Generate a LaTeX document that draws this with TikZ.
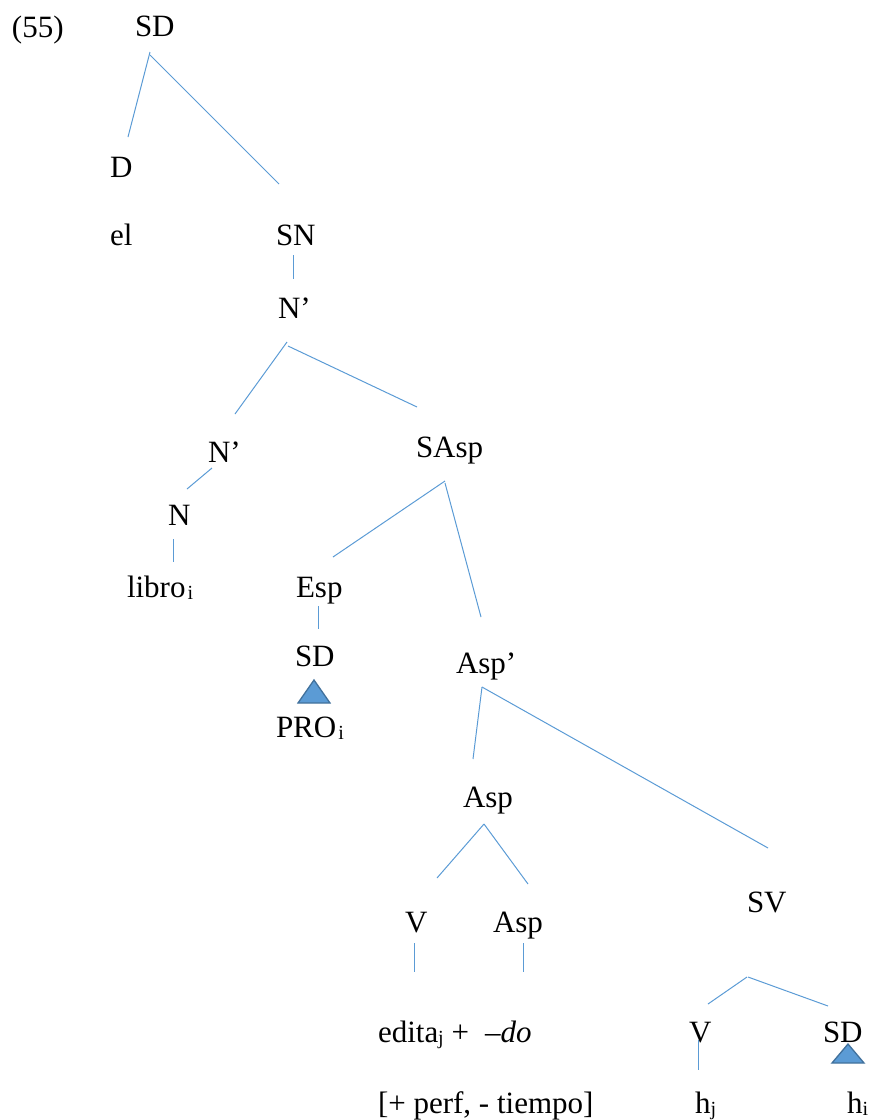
\documentclass[tikz,border=0pt]{standalone}
\usepackage{fontspec}
\setmainfont{Liberation Serif}
\definecolor{brc}{HTML}{5B9BD5}
\definecolor{trif}{HTML}{5B9BD5}
\definecolor{tric}{HTML}{41719C}
\newcommand\mysub[1]{\raisebox{-2pt}{\fontsize{20}{20}\selectfont #1}}
\begin{document}
\begin{tikzpicture}[x=1pt,y=-1pt,
  lab/.style={anchor=base west,inner sep=0pt,outer sep=0pt,font=\fontsize{31}{36}\selectfont},
  br/.style={draw=brc,line width=1pt},
  tri/.style={fill=trif,draw=tric,line width=1.3pt,line join=miter}]
\useasboundingbox (0,0) rectangle (869,1120);
% labels
\node[lab] (ex) at (12,37) {(55)};
\node[lab] (SD0) at (135,36) {SD};
\node[lab] (D) at (110,177) {D};
\node[lab] (el) at (110,245) {el};
\node[lab] (SN) at (276,245) {SN};
\node[lab] (N1) at (278,318) {N’};
\node[lab] (N2) at (208,462) {N’};
\node[lab] (SAsp) at (416,457) {SAsp};
\node[lab] (N) at (168,525) {N};
\node[lab] (libro) at (127,597) {libro\kern2pt\mysub{i}};
\node[lab] (Esp) at (296,597) {Esp};
\node[lab] (SD1) at (295,666) {SD};
\node[lab] (PRO) at (276,737) {PRO\kern2pt\mysub{i}};
\node[lab] (AspB) at (456,673) {Asp’};
\node[lab] (Asp) at (463,807) {Asp};
\node[lab] (V1) at (405,932) {V};
\node[lab] (Asp2) at (493,932) {Asp};
\node[lab] (SV) at (747,912) {SV};
\node[lab] (edita) at (378,1042) {edita\mysub{j} +};
\node[lab] (do) at (485,1042) {–\textit{do}};
\node[lab] (V2) at (689,1042) {V};
\node[lab] (SD2) at (823,1042) {SD};
\node[lab] (feat) at (378,1113) {[+ perf, - tiempo]};
\node[lab] (hj) at (695,1113) {h\mysub{j}};
\node[lab] (hi) at (847,1113) {h\mysub{i}};
% branches
\draw[br] ([xshift=15pt,yshift=-16pt]SD0.base west) -- ([xshift=18pt,yshift=40pt]D.base west);
\draw[br] ([xshift=15pt,yshift=-19pt]SD0.base west) -- ([xshift=3pt,yshift=61pt]SN.base west);
\draw[br] ([xshift=17pt,yshift=-10pt]SN.base west) -- ([xshift=15pt,yshift=39pt]N1.base west);
\draw[br] ([xshift=9pt,yshift=-24pt]N1.base west) -- ([xshift=27pt,yshift=48pt]N2.base west);
\draw[br] ([xshift=10pt,yshift=-28pt]N1.base west) -- ([xshift=1pt,yshift=50pt]SAsp.base west);
\draw[br] ([xshift=4pt,yshift=-6pt]N2.base west) -- ([xshift=19pt,yshift=36pt]N.base west);
\draw[br] ([xshift=5pt,yshift=-14pt]N.base west) -- ([xshift=46pt,yshift=35pt]libro.base west);
\draw[br] ([xshift=29pt,yshift=-24pt]SAsp.base west) -- ([xshift=37pt,yshift=40pt]Esp.base west);
\draw[br] ([xshift=29pt,yshift=-26pt]SAsp.base west) -- ([xshift=25pt,yshift=56pt]AspB.base west);
\draw[br] ([xshift=22pt,yshift=-9pt]Esp.base west) -- ([xshift=23pt,yshift=37pt]SD1.base west);
\draw[br] ([xshift=26pt,yshift=-14pt]AspB.base west) -- ([xshift=10pt,yshift=48pt]Asp.base west);
\draw[br] ([xshift=26pt,yshift=-14pt]AspB.base west) -- ([xshift=21pt,yshift=64pt]SV.base west);
\draw[br] ([xshift=21pt,yshift=-17pt]Asp.base west) -- ([xshift=32pt,yshift=54pt]V1.base west);
\draw[br] ([xshift=21pt,yshift=-17pt]Asp.base west) -- ([xshift=35pt,yshift=48pt]Asp2.base west);
\draw[br] ([xshift=9pt,yshift=-11pt]V1.base west) -- ([xshift=36pt,yshift=70pt]edita.base west);
\draw[br] ([xshift=30pt,yshift=-11pt]Asp2.base west) -- ([xshift=38pt,yshift=70pt]do.base west);
\draw[br] ([xshift=0pt,yshift=-65pt]SV.base west) -- ([xshift=19pt,yshift=38pt]V2.base west);
\draw[br] ([xshift=1pt,yshift=-65pt]SV.base west) -- ([xshift=5pt,yshift=36pt]SD2.base west);
\draw[br] ([xshift=9pt,yshift=2pt]V2.base west) -- ([xshift=3pt,yshift=43pt]hj.base west);
% triangles
\draw[tri] ([xshift=19pt,yshift=-14pt]SD1.base west) -- ([xshift=3pt,yshift=-37pt]SD1.base west) -- ([xshift=35pt,yshift=-37pt]SD1.base west) -- cycle;
\draw[tri] ([xshift=25pt,yshift=-2pt]SD2.base west) -- ([xshift=9pt,yshift=-21pt]SD2.base west) -- ([xshift=41pt,yshift=-21pt]SD2.base west) -- cycle;
\end{tikzpicture}
\end{document}
